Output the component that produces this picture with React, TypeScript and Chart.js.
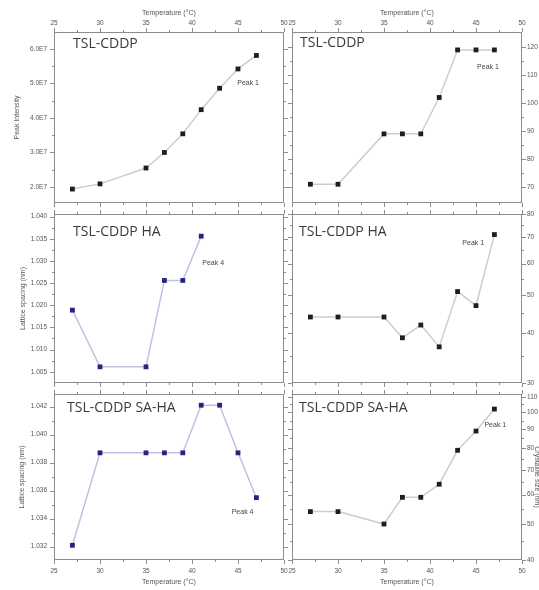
import React, { useEffect, useRef } from "react";
import { Chart, registerables } from "chart.js";

Chart.register(...registerables);

// ---------- data ----------
const temps = [27, 30, 35, 37, 39, 41, 43, 45, 47];
const tempsHAPeak4 = [27, 30, 35, 37, 39, 41];

const peakIntensityCDDP = [1.94e7, 2.09e7, 2.55e7, 3.0e7, 3.54e7, 4.24e7, 4.86e7, 5.42e7, 5.81e7];
const sizeCDDP = [71, 71, 89, 89, 89, 102, 119, 119, 119];
const latticeHA = [1.0189, 1.0061, 1.0061, 1.0256, 1.0256, 1.0356];
const sizeHA = [44, 44, 44, 39, 42, 37, 51, 47, 71];
const latticeSAHA = [1.0321, 1.0387, 1.0387, 1.0387, 1.0387, 1.0421, 1.0421, 1.0387, 1.0355];
const sizeSAHA = [54, 54, 50, 59, 59, 64, 79, 89, 102];

const xTicks = [25, 30, 35, 40, 45, 50];
const xMinor = [27.5, 32.5, 37.5, 42.5, 47.5];

const intensityTicks = [2e7, 3e7, 4e7, 5e7, 6e7];
const intensityLabels = ["2.0E7", "3.0E7", "4.0E7", "5.0E7", "6.0E7"];
const intensityMinor = [2.5e7, 3.5e7, 4.5e7, 5.5e7];

const sizeCDDPTicks = [70, 80, 90, 100, 110, 120];
const sizeCDDPMinor = [75, 85, 95, 105, 115];

const latticeHATicks = [1.005, 1.01, 1.015, 1.02, 1.025, 1.03, 1.035, 1.04];
const latticeHALabels = ["1.005", "1.010", "1.015", "1.020", "1.025", "1.030", "1.035", "1.040"];
const latticeHAMinor = [1.0075, 1.0125, 1.0175, 1.0225, 1.0275, 1.0325, 1.0375];

const sizeHATicks = [30, 40, 50, 60, 70, 80];
const sizeHAMinor = [35, 45, 55, 65, 75];

const latticeSAHATicks = [1.032, 1.034, 1.036, 1.038, 1.04, 1.042];
const latticeSAHALabels = ["1.032", "1.034", "1.036", "1.038", "1.040", "1.042"];
const latticeSAHAMinor = [1.033, 1.035, 1.037, 1.039, 1.041];

const sizeSAHATicks = [40, 50, 60, 70, 80, 90, 100, 110];
const sizeSAHAMinor = [45, 55, 65, 75, 85, 95, 105];

// ---------- layout ----------
const cols = [
  { left: 0, width: 290, areaLeft: 54, areaRight: 284 },
  { left: 286, width: 253, areaLeft: 292, areaRight: 522 },
];
const rows = [
  { top: 0, height: 210, areaTop: 32, areaBottom: 203 },
  { top: 207, height: 182, areaTop: 214, areaBottom: 383 },
  { top: 388, height: 202, areaTop: 394, areaBottom: 560 },
];

type Panel = {
  col: number;
  row: number;
  title: string;
  titleDx: number;
  titleDy: number;
  peak: string;
  peakX: number;
  peakY: number;
  xs: number[];
  ys: number[];
  yType: "linear" | "logarithmic";
  yMin: number;
  yMax: number;
  yTicks: number[];
  yLabels: string[];
  yMinor: number[];
  yTitle: string;
  yTitleOffset: number;
  marker: string;
  line: string;
};

const BLACK = "#1e1e1e";
const GREYLINE = "#cdcdcd";
const NAVY = "#25257f";
const LAVLINE = "#c0c0e4";

const panels: Panel[] = [
  {
    col: 0, row: 0, title: "TSL-CDDP", titleDx: 19, titleDy: 12,
    peak: "Peak 1", peakX: 46.1, peakY: 5.01e7,
    xs: temps, ys: peakIntensityCDDP, yType: "linear", yMin: 1.536e7, yMax: 6.49e7,
    yTicks: intensityTicks, yLabels: intensityLabels, yMinor: intensityMinor,
    yTitle: "Peak Intensity", yTitleOffset: 37, marker: BLACK, line: GREYLINE,
  },
  {
    col: 1, row: 0, title: "TSL-CDDP", titleDx: 8, titleDy: 11,
    peak: "Peak 1", peakX: 46.3, peakY: 113,
    xs: temps, ys: sizeCDDP, yType: "linear", yMin: 64.3, yMax: 125.4,
    yTicks: sizeCDDPTicks, yLabels: sizeCDDPTicks.map(String), yMinor: sizeCDDPMinor,
    yTitle: "", yTitleOffset: 0, marker: BLACK, line: GREYLINE,
  },
  {
    col: 0, row: 1, title: "TSL-CDDP HA", titleDx: 19, titleDy: 18,
    peak: "Peak 4", peakX: 42.3, peakY: 1.0295,
    xs: tempsHAPeak4, ys: latticeHA, yType: "linear", yMin: 1.00245, yMax: 1.0406,
    yTicks: latticeHATicks, yLabels: latticeHALabels, yMinor: latticeHAMinor,
    yTitle: "Lattice spacing (nm)", yTitleOffset: 31, marker: NAVY, line: LAVLINE,
  },
  {
    col: 1, row: 1, title: "TSL-CDDP HA", titleDx: 7, titleDy: 18,
    peak: "Peak 1", peakX: 44.7, peakY: 67.4,
    xs: temps, ys: sizeHA, yType: "logarithmic", yMin: 30, yMax: 80,
    yTicks: sizeHATicks, yLabels: sizeHATicks.map(String), yMinor: sizeHAMinor,
    yTitle: "", yTitleOffset: 0, marker: BLACK, line: GREYLINE,
  },
  {
    col: 0, row: 2, title: "TSL-CDDP SA-HA", titleDx: 13, titleDy: 14,
    peak: "Peak 4", peakX: 45.5, peakY: 1.03446,
    xs: temps, ys: latticeSAHA, yType: "linear", yMin: 1.03105, yMax: 1.0429,
    yTicks: latticeSAHATicks, yLabels: latticeSAHALabels, yMinor: latticeSAHAMinor,
    yTitle: "Lattice spacing (nm)", yTitleOffset: 32, marker: NAVY, line: LAVLINE,
  },
  {
    col: 1, row: 2, title: "TSL-CDDP SA-HA", titleDx: 7, titleDy: 14,
    peak: "Peak 1", peakX: 47.1, peakY: 92.1,
    xs: temps, ys: sizeSAHA, yType: "logarithmic", yMin: 40, yMax: 112,
    yTicks: sizeSAHATicks, yLabels: sizeSAHATicks.map(String), yMinor: sizeSAHAMinor,
    yTitle: "Crystallite size (nm)", yTitleOffset: -15, marker: BLACK, line: GREYLINE,
  },
];

const TICK_FONT = { family: "'Liberation Sans', Arial, sans-serif", size: 6.5 };

function makePlugin(p: Panel) {
  return {
    id: "frameAndText",
    beforeDatasetsDraw(chart: any) {
      const { ctx, chartArea: a, scales } = chart;
      const sx = scales.x;
      const sy = scales.y;
      ctx.save();
      ctx.strokeStyle = "#8c8c8c";
      ctx.lineWidth = 1;
      ctx.strokeRect(a.left + 0.5, a.top + 0.5, a.right - a.left - 1, a.bottom - a.top - 1);
      const tick = (x1: number, y1: number, x2: number, y2: number) => {
        ctx.beginPath();
        ctx.moveTo(x1, y1);
        ctx.lineTo(x2, y2);
        ctx.stroke();
      };
      const doX = (vals: number[], len: number) => {
        vals.forEach((v) => {
          const px = Math.round(sx.getPixelForValue(v)) + 0.5;
          tick(px, a.top, px, a.top - len);
          tick(px, a.bottom, px, a.bottom + len);
        });
      };
      const doY = (vals: number[], len: number) => {
        vals.forEach((v) => {
          const py = Math.round(sy.getPixelForValue(v)) + 0.5;
          tick(a.left, py, a.left - len, py);
          tick(a.right, py, a.right + len, py);
        });
      };
      doX(xTicks, 4);
      doX(xMinor, 2);
      doY(p.yTicks, 4);
      doY(p.yMinor, 2);
      ctx.restore();
    },
    afterDatasetsDraw(chart: any) {
      const { ctx, chartArea: a, scales } = chart;
      ctx.save();
      ctx.fillStyle = "#3a3a3a";
      ctx.font = "14px 'Open Sans', sans-serif";
      ctx.textAlign = "left";
      ctx.textBaseline = "middle";
      ctx.fillText(p.title, a.left + p.titleDx, a.top + p.titleDy);
      ctx.font = "7px 'Liberation Sans', Arial, sans-serif";
      ctx.fillStyle = "#444";
      ctx.textAlign = "center";
      ctx.fillText(p.peak, scales.x.getPixelForValue(p.peakX), scales.y.getPixelForValue(p.peakY));
      ctx.fillStyle = "#555";
      if (p.row === 0) {
        ctx.fillText("Temperature (°C)", (a.left + a.right) / 2, a.top - 19);
      }
      if (p.row === 2) {
        ctx.fillText("Temperature (°C)", (a.left + a.right) / 2, a.bottom + 22);
      }
      if (p.yTitle) {
        const cx = p.col === 0 ? a.left - p.yTitleOffset : a.right - p.yTitleOffset;
        ctx.translate(cx, (a.top + a.bottom) / 2);
        ctx.rotate(p.col === 0 ? -Math.PI / 2 : Math.PI / 2);
        ctx.fillText(p.yTitle, 0, 0);
      }
      ctx.restore();
    },
  };
}

function PanelChart({ p }: { p: Panel }) {
  const ref = useRef<HTMLCanvasElement | null>(null);
  const c = cols[p.col];
  const r = rows[p.row];

  useEffect(() => {
    if (!ref.current) return;
    const yWidth = p.col === 0 ? c.areaLeft - c.left : c.left + c.width - c.areaRight;
    const padLeft = p.col === 0 ? 0 : c.areaLeft - c.left;
    const padRight = p.col === 0 ? c.left + c.width - c.areaRight : 0;
    const xHeight = p.row === 0 ? r.areaTop - r.top : p.row === 2 ? r.top + r.height - r.areaBottom : 0;
    const padTop = p.row === 0 ? 0 : r.areaTop - r.top;
    const padBottom = p.row === 2 ? 0 : r.top + r.height - r.areaBottom;

    const zeroPad = (s: any) => {
      s.paddingLeft = 0;
      s.paddingRight = 0;
      s.paddingTop = 0;
      s.paddingBottom = 0;
    };

    const chart = new Chart(ref.current, {
      type: "line",
      data: {
        datasets: [
          {
            data: p.xs.map((x, i) => ({ x, y: p.ys[i] })),
            borderColor: p.line,
            borderWidth: 1.5,
            pointStyle: "rect",
            pointRadius: 3.4,
            pointBackgroundColor: p.marker,
            pointBorderColor: p.marker,
            pointBorderWidth: 0,
            tension: 0,
          },
        ],
      },
      options: {
        responsive: false,
        animation: false,
        events: [],
        layout: { padding: { left: padLeft, right: padRight, top: padTop, bottom: padBottom } },
        plugins: { legend: { display: false }, tooltip: { enabled: false } },
        scales: {
          x: {
            type: "linear",
            display: p.row !== 1,
            position: p.row === 0 ? "top" : "bottom",
            min: 25,
            max: 50,
            grid: { display: false, drawTicks: false },
            border: { display: false },
            afterBuildTicks: (s: any) => {
              s.ticks = xTicks.map((v) => ({ value: v }));
            },
            afterFit: (s: any) => {
              s.height = xHeight;
              zeroPad(s);
            },
            ticks: {
              autoSkip: false,
              maxRotation: 0,
              padding: p.row === 0 ? 5 : 7,
              color: "#555",
              font: TICK_FONT,
              callback: (v: any) => String(v),
            },
          },
          y: {
            type: p.yType,
            position: p.col === 0 ? "left" : "right",
            min: p.yMin,
            max: p.yMax,
            grid: { display: false, drawTicks: false },
            border: { display: false },
            afterBuildTicks: (s: any) => {
              s.ticks = p.yTicks.map((v) => ({ value: v }));
            },
            afterFit: (s: any) => {
              s.width = yWidth;
              zeroPad(s);
            },
            ticks: {
              autoSkip: false,
              padding: p.col === 0 ? 7 : 5,
              color: "#555",
              font: TICK_FONT,
              callback: (_v: any, i: number) => p.yLabels[i],
            },
          },
        },
      } as any,
      plugins: [makePlugin(p)],
    });
    return () => chart.destroy();
  }, []);

  return (
    <canvas
      ref={ref}
      width={c.width}
      height={r.height}
      style={{ position: "absolute", left: c.left, top: r.top, width: c.width, height: r.height }}
    />
  );
}

export default function App() {
  return (
    <div
      style={{
        position: "absolute",
        left: 0,
        top: 0,
        width: 539,
        height: 590,
        overflow: "hidden",
        background: "#ffffff",
      }}
    >
      {panels.map((p, i) => (
        <PanelChart key={i} p={p} />
      ))}
    </div>
  );
}
